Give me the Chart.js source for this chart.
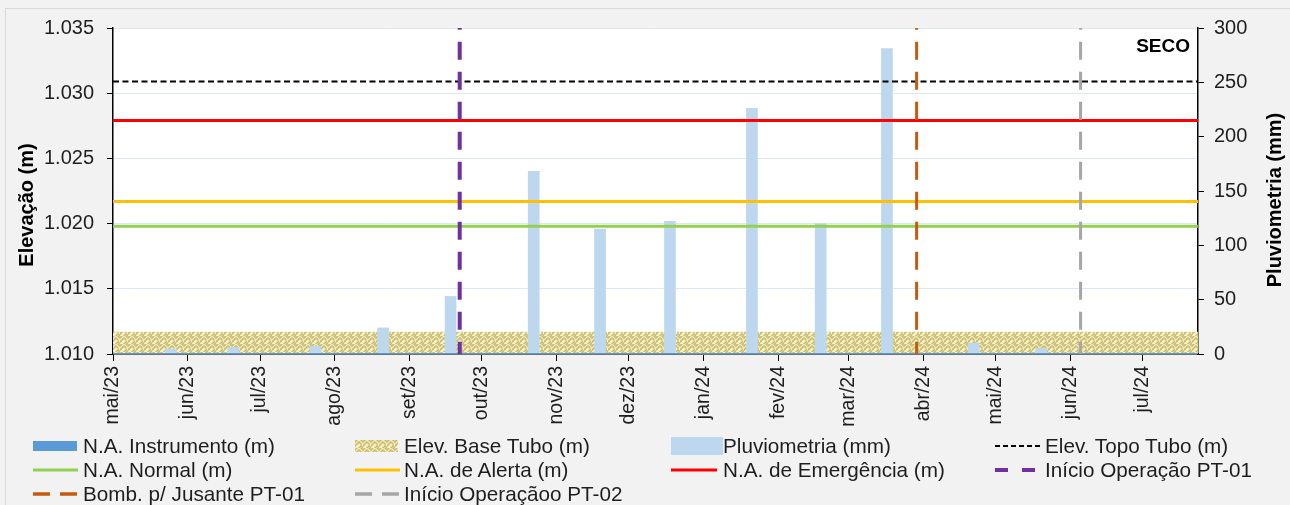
<!DOCTYPE html>
<html><head><meta charset="utf-8">
<script src="https://cdn.jsdelivr.net/npm/chart.js@4.4.1/dist/chart.umd.min.js"></script>
<style>
html,body{margin:0;padding:0;background:#f2f2f2;}
#wrap{position:relative;width:1290px;height:505px;overflow:hidden;}
#c{position:absolute;left:0;top:0;}
.lg{position:absolute;font-family:"Liberation Sans",Arial,sans-serif;font-size:20.7px;color:#1e1e1e;white-space:nowrap;line-height:24px;height:24px;}
.mk{position:absolute;}
</style></head><body>
<div id="wrap"><canvas id="c" width="1290" height="505"></canvas><div id="legend"></div></div>
<script>
// ---------- data ----------
const monthLabels = ['mai/23','jun/23','jul/23','ago/23','set/23','out/23','nov/23','dez/23','jan/24','fev/24','mar/24','abr/24','mai/24','jun/24','jul/24'];
const monthDays = [0,31,61,92,123,153,184,214,245,276,305,336,366,397,427]; // days since 01/05/2023
const xEnd = 450;
const leftTicks = [1.010,1.015,1.020,1.025,1.030,1.035];
const leftTickLabels = ['1.010','1.015','1.020','1.025','1.030','1.035'];
const rightTicks = [0,50,100,150,200,250,300];
const rightTickLabels = ['0','50','100','150','200','250','300'];
const rainDays = [24,50,84,112,140,174.5,202,231,265,293.5,321,357,385];
const rainMM   = [4.5,6,7,24,53,168,115,122,226,120,281,10,5];
const instrDays = [0,450];
const instrLevel = [1.0100,1.0100];
const baseTubo = 1.0117;
const topoTubo = 1.0309;
const naNormal = 1.0198;
const naAlerta = 1.0217;
const naEmergencia = 1.0279;
const inicioPT01 = 143.8;
const bombJusante = 333.3;
const inicioPT02 = 401.3;
const statusText = 'SECO';
const titleLeft = 'Elevação (m)';
const titleRight = 'Pluviometria (mm)';

const FAM = '"Liberation Sans", Arial, sans-serif';
const yMin = leftTicks[0], yMax = leftTicks[leftTicks.length-1];

// hatch pattern
const pc = document.createElement('canvas'); pc.width = 8; pc.height = 8;
(function(){
  const p = pc.getContext('2d');
  p.fillStyle = '#f6f0c6'; p.fillRect(0,0,8,8);
  p.strokeStyle = '#c9bc70'; p.lineWidth = 1.6; p.lineCap = 'square';
  p.beginPath();
  p.moveTo(0,2); p.lineTo(2,0);
  p.moveTo(0,6); p.lineTo(4,2); p.lineTo(6,4);
  p.moveTo(4,8); p.lineTo(6,6); p.lineTo(8,8);
  p.moveTo(6,0); p.lineTo(8,2);
  p.stroke();
})();
const hatch = document.getElementById('c').getContext('2d').createPattern(pc,'repeat');

function hLine(v){ return [{x:0,y:v},{x:xEnd,y:v}]; }
function vLine(d){ return [{x:d,y:yMax},{x:d,y:yMin}]; }

const dashV = [18,12];
const datasets = [
  {label:'N.A. Instrumento (m)', type:'line', data:instrDays.map((d,i)=>({x:d,y:instrLevel[i]})), borderColor:'#5b9bd5', borderWidth:2, pointRadius:0, order:8, mk:{kind:'rect',color:'#5b9bd5',w:44,h:10}},
  {label:'Elev. Base Tubo (m)', type:'line', data:hLine(baseTubo), borderWidth:0, borderColor:'rgba(0,0,0,0)', backgroundColor:hatch, fill:'start', pointRadius:0, order:10, mk:{kind:'hatch',w:43,h:12}},
  {label:'Pluviometria (mm)', type:'bar', yAxisID:'y1', data:rainDays.map((d,i)=>({x:d,y:rainMM[i]})), backgroundColor:'#bdd7ee', borderWidth:0, barThickness:11, order:9, mk:{kind:'rect',color:'#bdd7ee',w:52,h:18}},
  {label:'Elev. Topo Tubo (m)', type:'line', data:hLine(topoTubo), borderColor:'#000', borderWidth:2, borderDash:[6,3.5], pointRadius:0, order:5, mk:{kind:'line',color:'#000',w:2,dash:'5 3',len:45}},
  {label:'N.A. Normal (m)', type:'line', data:hLine(naNormal), borderColor:'#92d050', borderWidth:3, pointRadius:0, order:5, mk:{kind:'line',color:'#92d050',w:3,len:45}},
  {label:'N.A. de Alerta (m)', type:'line', data:hLine(naAlerta), borderColor:'#ffc000', borderWidth:3, pointRadius:0, order:5, mk:{kind:'line',color:'#ffc000',w:3,len:45}},
  {label:'N.A. de Emergência (m)', type:'line', data:hLine(naEmergencia), borderColor:'#ff0000', borderWidth:3, pointRadius:0, order:5, mk:{kind:'line',color:'#ff0000',w:3,len:46}},
  {label:'Início Operação PT-01', type:'line', data:vLine(inicioPT01), borderColor:'#7030a0', borderWidth:4, borderDash:dashV, borderDashOffset:16.3, pointRadius:0, order:1, mk:{kind:'line',color:'#7030a0',w:4,dash:'13 14',len:42}},
  {label:'Bomb. p/ Jusante PT-01', type:'line', data:vLine(bombJusante), borderColor:'#c55a11', borderWidth:3, borderDash:dashV, borderDashOffset:16.3, pointRadius:0, order:1, mk:{kind:'line',color:'#c55a11',w:3.5,dash:'17 10',len:45}},
  {label:'Início Operaçãoo PT-02', type:'line', data:vLine(inicioPT02), borderColor:'#a6a6a6', borderWidth:3, borderDash:dashV, borderDashOffset:16.3, pointRadius:0, order:1, mk:{kind:'line',color:'#a6a6a6',w:3.5,dash:'17 10',len:45}}
];

const decor = {
  id:'decor',
  beforeDraw(chart){
    const {ctx, chartArea:a} = chart;
    ctx.save();
    ctx.fillStyle = '#f2f2f2'; ctx.fillRect(0,0,chart.width,chart.height);
    ctx.strokeStyle = '#d9d9d9'; ctx.lineWidth = 1;
    ctx.strokeRect(5.5,8.5,chart.width+20,chart.height+20);
    ctx.fillStyle = '#ffffff'; ctx.fillRect(a.left,a.top,a.right-a.left,a.bottom-a.top);
    ctx.restore();
  },
  afterDraw(chart){
    const {ctx, chartArea:a} = chart;
    ctx.save();
    ctx.fillStyle = '#000';
    ctx.font = 'bold 20px ' + FAM;
    ctx.textAlign = 'center'; ctx.textBaseline = 'middle';
    ctx.translate(27, 205); ctx.rotate(-Math.PI/2); ctx.fillText(titleLeft,0,0);
    ctx.setTransform(1,0,0,1,0,0);
    ctx.translate(1275, 200); ctx.rotate(-Math.PI/2); ctx.fillText(titleRight,0,0);
    ctx.setTransform(1,0,0,1,0,0);
    ctx.font = 'bold 19px ' + FAM;
    ctx.textAlign = 'right'; ctx.textBaseline = 'alphabetic';
    ctx.fillText(statusText, a.right-8, a.top+23.5);
    ctx.restore();
  }
};

const tickFont = {family:FAM, size:20};
const chart = new Chart(document.getElementById('c'), {
  type:'line',
  data:{datasets},
  plugins:[decor],
  options:{
    responsive:false, animation:false, devicePixelRatio:1,
    layout:{padding:{top:28,left:0,right:0,bottom:0}},
    plugins:{legend:{display:false}, tooltip:{enabled:false}},
    scales:{
      x:{type:'linear', min:0, max:xEnd, offset:false,
        afterBuildTicks(s){ s.ticks = monthDays.map(v=>({value:v})); },
        afterFit(s){ s.height = 151; },
        grid:{drawOnChartArea:false, drawTicks:true, tickLength:7, tickColor:'#000', offset:false},
        border:{display:true, color:'#000', width:1.5},
        ticks:{autoSkip:false, minRotation:90, maxRotation:90, padding:5, color:'#1e1e1e', font:{family:FAM,size:19.5},
          callback:(v,i)=>monthLabels[i]}
      },
      y:{position:'left', min:yMin, max:yMax,
        afterBuildTicks(s){ s.ticks = leftTicks.map(v=>({value:v})); },
        afterFit(s){ s.width = 113; },
        grid:{color:'#dce8f4', lineWidth:1, tickColor:'#000', tickLength:6},
        border:{display:true, color:'#000', width:1.5},
        ticks:{padding:13, color:'#1e1e1e', font:tickFont, callback:(v,i)=>leftTickLabels[i]}
      },
      y1:{position:'right', min:0, max:300,
        afterBuildTicks(s){ s.ticks = rightTicks.map(v=>({value:v})); },
        afterFit(s){ s.width = 92; },
        grid:{drawOnChartArea:false, tickColor:'#000', tickLength:6},
        border:{display:true, color:'#000', width:1.5},
        ticks:{padding:10, color:'#1e1e1e', font:tickFont, callback:(v,i)=>rightTickLabels[i]}
      }
    }
  }
});

// ---------- HTML legend (4 columns) ----------
const colMarkerX = [33,355,671,995];
const colTextX = [83,404,723,1045];
const rowY = [446,470,494];
const lg = document.getElementById('legend');
chart.data.datasets.forEach((ds,i)=>{
  const col = i % 4, row = Math.floor(i/4);
  const cy = rowY[row];
  const m = ds.mk;
  let el;
  if (m.kind === 'rect' || m.kind === 'hatch'){
    el = document.createElement('div');
    el.className = 'mk';
    el.style.left = colMarkerX[col] + 'px';
    el.style.top = (cy - m.h/2) + 'px';
    el.style.width = m.w + 'px'; el.style.height = m.h + 'px';
    if (m.kind === 'rect') el.style.background = m.color;
    else el.style.backgroundImage = 'url(' + pc.toDataURL() + ')';
  } else {
    const ns = 'http://www.w3.org/2000/svg';
    el = document.createElementNS(ns,'svg');
    el.setAttribute('class','mk');
    el.setAttribute('width', m.len); el.setAttribute('height', 10);
    el.style.left = colMarkerX[col] + 'px'; el.style.top = (cy-5) + 'px';
    const ln = document.createElementNS(ns,'line');
    ln.setAttribute('x1',0); ln.setAttribute('x2',m.len); ln.setAttribute('y1',5); ln.setAttribute('y2',5);
    ln.setAttribute('stroke', m.color); ln.setAttribute('stroke-width', m.w);
    if (m.dash) ln.setAttribute('stroke-dasharray', m.dash);
    el.appendChild(ln);
  }
  lg.appendChild(el);
  const t = document.createElement('div');
  t.className = 'lg';
  t.style.left = colTextX[col] + 'px';
  t.style.top = (cy - 12) + 'px';
  t.textContent = ds.label;
  lg.appendChild(t);
});
</script>
</body></html>
